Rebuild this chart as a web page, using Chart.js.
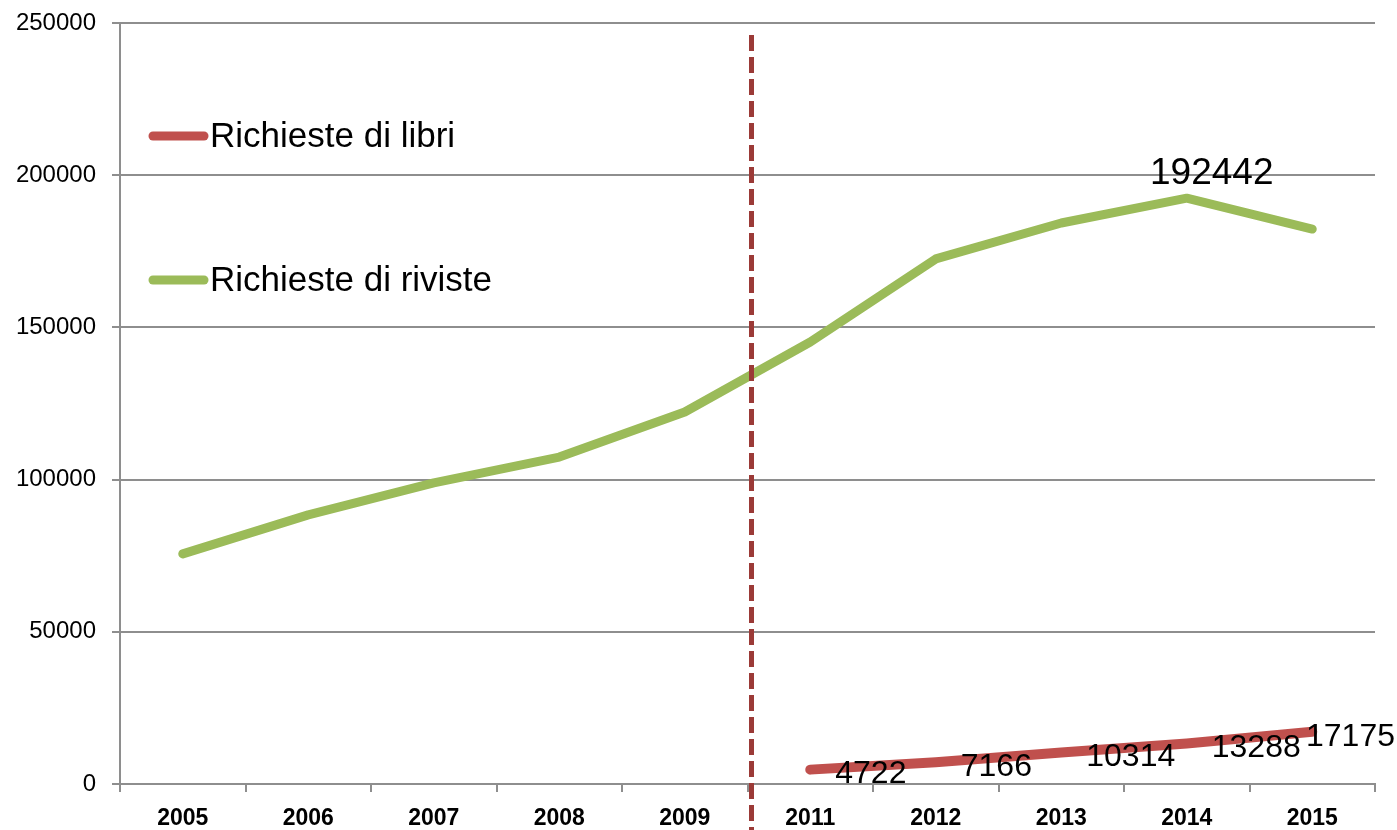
<!DOCTYPE html>
<html>
<head>
<meta charset="utf-8">
<script src="https://cdn.jsdelivr.net/npm/chart.js@4.4.1/dist/chart.umd.min.js"></script>
<style>
    html, body { margin: 0; padding: 0; background: #fff; }
    #wrap { width: 1397px; height: 830px; position: relative; }
</style>
</head>
<body>
<div id="wrap"><canvas id="chart"></canvas></div>
<script>
const years = ['2005', '2006', '2007', '2008', '2009', '2011', '2012', '2013', '2014', '2015'];
const libri = [null, null, null, null, null, 4722, 7166, 10314, 13288, 17175];
const riviste = [75600, 88400, 98900, 107400, 122200, 145200, 172500, 184300, 192442, 182300];
const yTicks = [0, 50000, 100000, 150000, 200000, 250000];
const labelledRiviste = ['2014'];

const RED = '#C0504D';
const GREEN = '#9BBB59';
const FONT = '"Liberation Sans", Arial, sans-serif';

// dashed separator where 2010 is missing, plus legend and value labels
const extras = {
    id: 'extras',
    afterDatasetsDraw: (chart) => {
        const c = chart.ctx;
        const x = chart.scales.x;
        const area = chart.chartArea;

        // separator between 2009 and 2011
        const sx = (x.getPixelForValue(4) + x.getPixelForValue(5)) / 2 + 4;
        c.save();
        c.strokeStyle = '#9B3A37';
        c.lineWidth = 5;
        c.setLineDash([16, 6]);
        c.beginPath();
        c.moveTo(sx, area.top + 12);
        c.lineTo(sx, chart.height);
        c.stroke();
        c.restore();

        // value labels
        c.save();
        c.fillStyle = '#000';
        c.textBaseline = 'middle';
        c.textAlign = 'left';
        const m0 = chart.getDatasetMeta(0);
        c.font = '32px ' + FONT;
        m0.data.forEach((pt, i) => {
            if (libri[i] == null) return;
            const txt = String(libri[i]);
            let tx = pt.x + 25;
            const w = c.measureText(txt).width;
            if (tx + w > chart.width - 2) tx = chart.width - 2 - w;
            c.fillText(txt, tx, pt.y + 5);
        });
        const m1 = chart.getDatasetMeta(1);
        c.font = '37px ' + FONT;
        c.textAlign = 'center';
        m1.data.forEach((pt, i) => {
            if (!labelledRiviste.includes(years[i])) return;
            c.fillText(String(riviste[i]), pt.x + 25, pt.y - 24);
        });

        // legend
        const items = chart.data.datasets;
        const ly = [136, 280];
        c.font = '35px ' + FONT;
        c.textAlign = 'left';
        items.forEach((ds, i) => {
            c.strokeStyle = ds.borderColor;
            c.lineWidth = 9;
            c.lineCap = 'round';
            c.beginPath();
            c.moveTo(153, ly[i]);
            c.lineTo(204, ly[i]);
            c.stroke();
            c.fillText(ds.label, 210, ly[i] + 1);
        });
        c.restore();
    }
};

new Chart(document.getElementById('chart'), {
    type: 'line',
    data: {
        labels: years,
        datasets: [
            { label: 'Richieste di libri', data: libri, borderColor: RED, backgroundColor: RED, borderWidth: 10, pointRadius: 0, borderCapStyle: 'round', borderJoinStyle: 'round', spanGaps: false },
            { label: 'Richieste di riviste', data: riviste, borderColor: GREEN, backgroundColor: GREEN, borderWidth: 9, pointRadius: 0, borderCapStyle: 'round', borderJoinStyle: 'round' }
        ]
    },
    options: {
        responsive: true,
        maintainAspectRatio: false,
        animation: false,
        layout: { padding: { top: 23, right: 22, left: 0, bottom: 0 } },
        plugins: { legend: { display: false }, tooltip: { enabled: false } },
        scales: {
            x: {
                offset: true,
                grid: { drawOnChartArea: false, offset: true, tickLength: 8, color: '#8E8E8E', lineWidth: 2 },
                border: { color: '#8E8E8E', width: 2 },
                ticks: { color: '#000', font: { family: FONT, size: 23, weight: 'bold' }, padding: 13, maxRotation: 0 },
                afterFit: (s) => { s.height = 46; s.paddingLeft = 0; s.paddingRight = 0; }
            },
            y: {
                min: 0,
                max: 250000,
                afterBuildTicks: (s) => { s.ticks = yTicks.map(v => ({ value: v })); },
                grid: { color: '#8E8E8E', lineWidth: 2, tickLength: 8 },
                border: { color: '#8E8E8E', width: 2 },
                ticks: { color: '#000', font: { family: FONT, size: 24 }, padding: 16, callback: (v) => String(v) },
                afterFit: (s) => { s.width = 120; s.paddingTop = 0; s.paddingBottom = 0; }
            }
        }
    },
    plugins: [extras]
});
</script>
</body>
</html>
